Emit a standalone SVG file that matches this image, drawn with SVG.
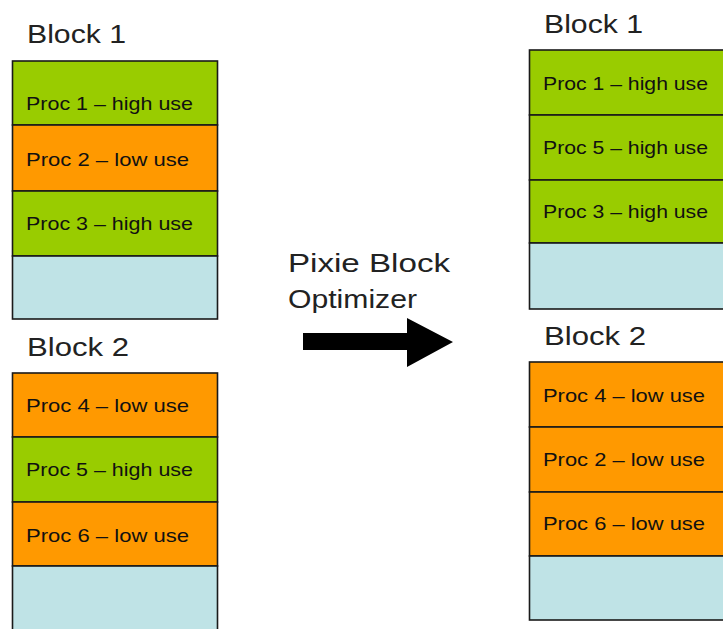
<svg xmlns="http://www.w3.org/2000/svg" width="723" height="629" viewBox="0 0 723 629">
<style>
.g{fill:#99CC00;stroke:#1a1a1a;stroke-width:1.6}
.o{fill:#FF9900;stroke:#1a1a1a;stroke-width:1.6}
.b{fill:#BFE3E6;stroke:#1a1a1a;stroke-width:1.6}
.t{font-family:"Liberation Sans",Arial,sans-serif;font-size:19px;fill:#111}
.h{font-family:"Liberation Sans",Arial,sans-serif;font-size:25px;fill:#222}
</style>
<rect width="723" height="629" fill="#fff"/>
<g id="left-block1">
<text class="h" x="27" y="43" textLength="99" lengthAdjust="spacingAndGlyphs">Block 1</text>
<rect class="g" x="12.5" y="61" width="205" height="64"/>
<rect class="o" x="12.5" y="125" width="205" height="66"/>
<rect class="g" x="12.5" y="191" width="205" height="65"/>
<rect class="b" x="12.5" y="256" width="205" height="63"/>
<text class="t" x="26" y="110" textLength="167" lengthAdjust="spacingAndGlyphs">Proc 1 – high use</text>
<text class="t" x="26" y="166" textLength="163" lengthAdjust="spacingAndGlyphs">Proc 2 – low use</text>
<text class="t" x="26" y="230" textLength="167" lengthAdjust="spacingAndGlyphs">Proc 3 – high use</text>
</g>
<g id="left-block2">
<text class="h" x="27" y="356" textLength="102" lengthAdjust="spacingAndGlyphs">Block 2</text>
<rect class="o" x="12.5" y="373" width="205" height="64"/>
<rect class="g" x="12.5" y="437" width="205" height="65"/>
<rect class="o" x="12.5" y="502" width="205" height="64"/>
<rect class="b" x="12.5" y="566" width="205" height="70"/>
<text class="t" x="26" y="412" textLength="163" lengthAdjust="spacingAndGlyphs">Proc 4 – low use</text>
<text class="t" x="26" y="476" textLength="167" lengthAdjust="spacingAndGlyphs">Proc 5 – high use</text>
<text class="t" x="26" y="542" textLength="163" lengthAdjust="spacingAndGlyphs">Proc 6 – low use</text>
</g>
<g id="right-block1">
<text class="h" x="544" y="33" textLength="99" lengthAdjust="spacingAndGlyphs">Block 1</text>
<rect class="g" x="529.5" y="50" width="205" height="65"/>
<rect class="g" x="529.5" y="115" width="205" height="65"/>
<rect class="g" x="529.5" y="180" width="205" height="63"/>
<rect class="b" x="529.5" y="243" width="205" height="66"/>
<text class="t" x="543" y="90" textLength="165" lengthAdjust="spacingAndGlyphs">Proc 1 – high use</text>
<text class="t" x="543" y="154" textLength="165" lengthAdjust="spacingAndGlyphs">Proc 5 – high use</text>
<text class="t" x="543" y="218" textLength="165" lengthAdjust="spacingAndGlyphs">Proc 3 – high use</text>
</g>
<g id="right-block2">
<text class="h" x="544" y="345" textLength="102" lengthAdjust="spacingAndGlyphs">Block 2</text>
<rect class="o" x="529.5" y="362" width="205" height="65"/>
<rect class="o" x="529.5" y="427" width="205" height="65"/>
<rect class="o" x="529.5" y="492" width="205" height="64"/>
<rect class="b" x="529.5" y="556" width="205" height="64"/>
<text class="t" x="543" y="402" textLength="162" lengthAdjust="spacingAndGlyphs">Proc 4 – low use</text>
<text class="t" x="543" y="466" textLength="162" lengthAdjust="spacingAndGlyphs">Proc 2 – low use</text>
<text class="t" x="543" y="530" textLength="162" lengthAdjust="spacingAndGlyphs">Proc 6 – low use</text>
</g>
<g id="optimizer-label">
<text class="h" x="288" y="272" textLength="162" lengthAdjust="spacingAndGlyphs">Pixie Block</text>
<text class="h" x="288" y="308" textLength="129" lengthAdjust="spacingAndGlyphs">Optimizer</text>
</g>
<g id="connectors">
<polygon points="303,333 407,333 407,318 453,342 407,367 407,350 303,350" fill="#000"/>
</g>
</svg>
